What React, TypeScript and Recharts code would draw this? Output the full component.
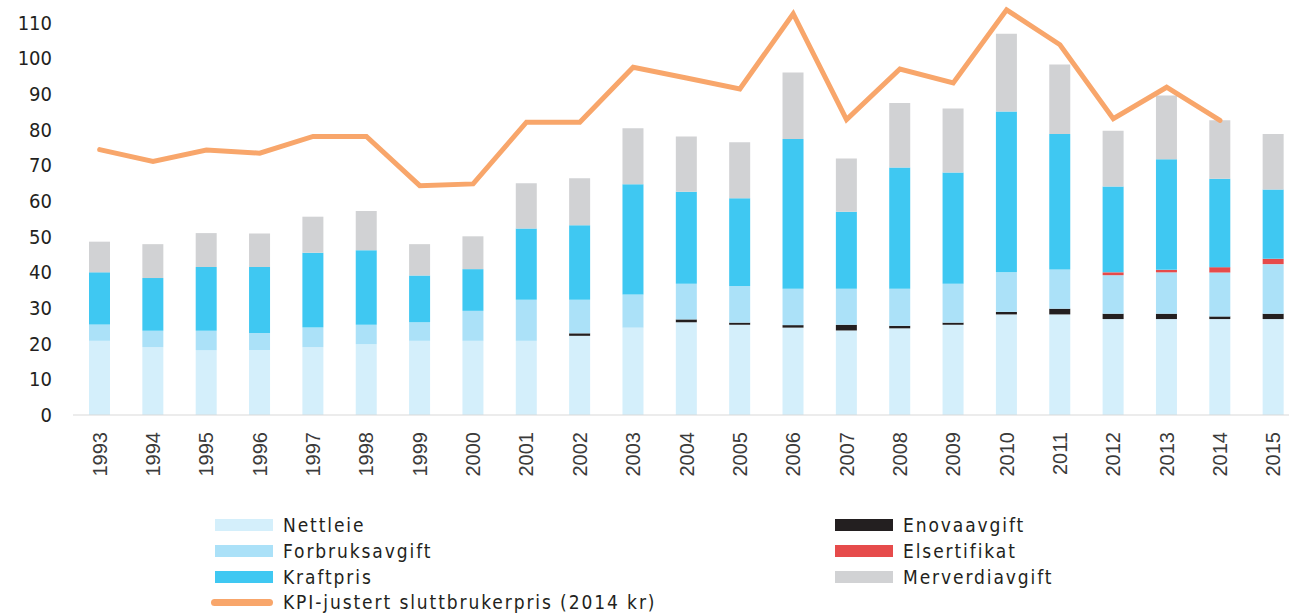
import { Bar, ComposedChart, Line, XAxis, YAxis } from "recharts";

// Values (øre/kWh, stacked bottom to top).
const years = [
  "1993", "1994", "1995", "1996", "1997", "1998", "1999", "2000", "2001", "2002", "2003", "2004",
  "2005", "2006", "2007", "2008", "2009", "2010", "2011", "2012", "2013", "2014", "2015",
];
const nettleie = [20.8, 19.0, 18.2, 18.2, 19.0, 19.8, 20.8, 20.8, 20.8, 22.2, 24.5, 26.0, 25.3, 24.5, 23.7, 24.3, 25.3, 28.2, 28.2, 26.9, 26.9, 26.9, 26.9];
const enovaavgift = [0, 0, 0, 0, 0, 0, 0, 0, 0, 0.7, 0, 0.8, 0.6, 0.7, 1.6, 0.7, 0.6, 0.7, 1.6, 1.5, 1.5, 0.75, 1.5];
const forbruksavgift = [4.6, 4.6, 5.4, 4.8, 5.5, 5.5, 5.2, 8.4, 11.5, 9.4, 9.3, 10.0, 10.3, 10.2, 10.1, 10.4, 10.9, 11.1, 11.0, 10.8, 11.6, 12.3, 13.9];
const elsertifikat = [0, 0, 0, 0, 0, 0, 0, 0, 0, 0, 0, 0, 0, 0, 0, 0, 0, 0, 0, 0.8, 0.7, 1.5, 1.5];
const kraftpris = [14.6, 14.8, 17.9, 18.5, 21.0, 20.9, 13.1, 11.7, 20.0, 20.9, 30.9, 25.8, 24.6, 42.0, 21.6, 34.0, 31.2, 45.1, 38.0, 24.1, 31.0, 24.8, 19.4];
const merverdiavgift = [8.6, 9.5, 9.5, 9.4, 10.1, 11.0, 8.8, 9.2, 12.7, 13.2, 15.7, 15.5, 15.7, 18.6, 14.9, 18.1, 17.9, 21.8, 19.5, 15.6, 17.9, 16.4, 15.6];
const kpiPris = [74.4, 71.1, 74.3, 73.4, 78.1, 78.1, 64.3, 64.8, 82.1, 82.1, 97.5, 94.5, 91.4, 112.5, 82.8, 97.0, 93.1, 113.6, 103.8, 83.1, 91.9, 82.6, null];
const yTicks = [0, 10, 20, 30, 40, 50, 60, 70, 80, 90, 100, 110];

const COLORS = {
  nettleie: "#d4effb",
  forbruksavgift: "#abe1f8",
  kraftpris: "#3fc8f2",
  enovaavgift: "#231f20",
  elsertifikat: "#e64b4b",
  merverdiavgift: "#d1d2d4",
  kpi: "#f8a66b",
};

const DIN = "'DejaVu Sans Condensed', 'Liberation Sans Narrow', Roboto, sans-serif";

const data = years.map((year, i) => ({
  year,
  nettleie: nettleie[i],
  enovaavgift: enovaavgift[i],
  forbruksavgift: forbruksavgift[i],
  elsertifikat: elsertifikat[i],
  kraftpris: kraftpris[i],
  merverdiavgift: merverdiavgift[i],
  kpi: kpiPris[i],
}));

// stack order bottom -> top
const STACK = ["nettleie", "enovaavgift", "forbruksavgift", "elsertifikat", "kraftpris", "merverdiavgift"] as const;

const LEFT_LEGEND = [
  { label: "Nettleie", color: COLORS.nettleie },
  { label: "Forbruksavgift", color: COLORS.forbruksavgift },
  { label: "Kraftpris", color: COLORS.kraftpris },
];
const RIGHT_LEGEND = [
  { label: "Enovaavgift", color: COLORS.enovaavgift },
  { label: "Elsertifikat", color: COLORS.elsertifikat },
  { label: "Merverdiavgift", color: COLORS.merverdiavgift },
];

const legendText = {
  marginLeft: 10,
  fontFamily: DIN,
  fontSize: 19,
  letterSpacing: 1.9,
  color: "#231f20",
  whiteSpace: "nowrap" as const,
};

function YearTick({ x, y, payload }: { x?: number; y?: number; payload?: { value: string } }) {
  return (
    <text
      transform={`translate(${(x ?? 0) + 7},${(y ?? 0) + 9}) rotate(-90)`}
      textAnchor="end"
      fontSize={20}
      fontFamily="'Liberation Sans', Arial, sans-serif"
      fill="#3a3a3a"
    >
      {payload?.value}
    </text>
  );
}

function LegendRow({ x, y, label, color }: { x: number; y: number; label: string; color: string }) {
  return (
    <div style={{ position: "absolute", left: x, top: y - 13, height: 26, display: "flex", alignItems: "center" }}>
      <span style={{ width: 58, height: 12, background: color, display: "inline-block" }} />
      <span style={legendText}>{label}</span>
    </div>
  );
}

export default function App() {
  return (
    <div style={{ position: "absolute", left: 0, top: 0, width: 1289, height: 613, overflow: "hidden", background: "#fff" }}>
      <div style={{ position: "absolute", left: 0, top: -20 }}>
        <ComposedChart width={1300} height={515} data={data} margin={{ top: 7, right: 0, bottom: 0, left: 0 }} barSize={21}>
          <XAxis
            dataKey="year"
            interval={0}
            height={80}
            tickLine={false}
            axisLine={{ stroke: "#d9d9d9" }}
            tick={<YearTick />}
          />
          <YAxis
            domain={[0, 120]}
            ticks={yTicks}
            width={73}
            tickLine={false}
            axisLine={false}
            tickSize={0}
            tickMargin={21}
            tick={{ fontSize: 20, fill: "#231f20", fontFamily: DIN }}
          />
          {STACK.map((key) => (
            <Bar key={key} dataKey={key} stackId="pris" fill={COLORS[key]} isAnimationActive={false} />
          ))}
          <Line
            dataKey="kpi"
            type="linear"
            stroke={COLORS.kpi}
            strokeWidth={5}
            strokeLinecap="round"
            dot={false}
            activeDot={false}
            connectNulls={false}
            isAnimationActive={false}
          />
        </ComposedChart>
      </div>
      {LEFT_LEGEND.map((item, i) => (
        <LegendRow key={item.label} x={215} y={524.5 + i * 26} label={item.label} color={item.color} />
      ))}
      <div style={{ position: "absolute", left: 211, top: 589, height: 26, display: "flex", alignItems: "center" }}>
        <span style={{ width: 62, height: 7, borderRadius: 4, background: COLORS.kpi, display: "inline-block" }} />
        <span style={legendText}>KPI-justert sluttbrukerpris (2014 kr)</span>
      </div>
      {RIGHT_LEGEND.map((item, i) => (
        <LegendRow key={item.label} x={835} y={524.5 + i * 26} label={item.label} color={item.color} />
      ))}
    </div>
  );
}
